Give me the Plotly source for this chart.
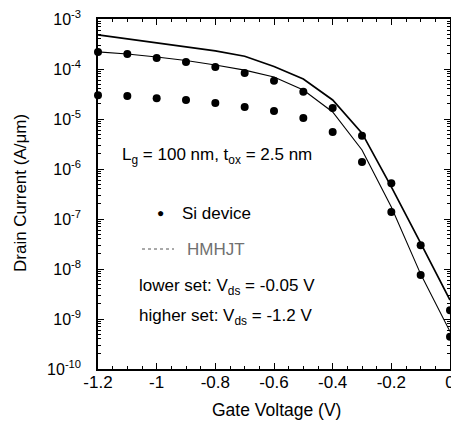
import plotly.graph_objects as go

# Gate voltage (V)
vg = [-1.2, -1.1, -1.0, -0.9, -0.8, -0.7, -0.6, -0.5, -0.4, -0.3, -0.2, -0.1, 0.0]

# Si device, higher set (Vds = -1.2 V), A/um
si_high = [2.2e-4, 2.0e-4, 1.66e-4, 1.38e-4, 1.1e-4, 8.3e-5, 5.8e-5, 3.5e-5,
           1.66e-5, 4.6e-6, 5.2e-7, 3.0e-8, 1.5e-9]
# Si device, lower set (Vds = -0.05 V), A/um
si_low = [3.0e-5, 2.9e-5, 2.6e-5, 2.4e-5, 2.1e-5, 1.74e-5, 1.45e-5, 1.05e-5,
          5.5e-6, 1.38e-6, 1.38e-7, 7.6e-9, 4.4e-10]

# HMHJT curves
hmhjt_upper = [4.8e-4, 4.0e-4, 3.3e-4, 2.75e-4, 2.3e-4, 1.8e-4, 1.12e-4, 6.3e-5,
               2.4e-5, 5.2e-6, 4.4e-7, 3.3e-8, 2.4e-9]
hmhjt_lower = [2.2e-4, 2.0e-4, 1.74e-4, 1.48e-4, 1.2e-4, 9.5e-5, 6.9e-5, 3.8e-5,
               1.38e-5, 2.4e-6, 1.74e-7, 7.9e-9, 5.6e-10]

x_ticks = [-1.2, -1.0, -0.8, -0.6, -0.4, -0.2, 0.0]
x_ticklabels = ["-1.2", "-1", "-0.8", "-0.6", "-0.4", "-0.2", "0"]
y_ticks = [1e-10, 1e-9, 1e-8, 1e-7, 1e-6, 1e-5, 1e-4, 1e-3]
y_ticklabels = ["10<sup>-10</sup>", "10<sup>-9</sup>", "10<sup>-8</sup>", "10<sup>-7</sup>",
                "10<sup>-6</sup>", "10<sup>-5</sup>", "10<sup>-4</sup>", "10<sup>-3</sup>"]

FONT = "Liberation Sans, Arial, sans-serif"

fig = go.Figure()
fig.add_trace(go.Scatter(x=vg, y=hmhjt_upper, mode="lines",
                         line=dict(color="black", width=1.7), cliponaxis=False,
                         showlegend=False))
fig.add_trace(go.Scatter(x=vg, y=hmhjt_lower, mode="lines",
                         line=dict(color="black", width=1.1), cliponaxis=False,
                         showlegend=False))
fig.add_trace(go.Scatter(x=vg, y=si_high, mode="markers",
                         marker=dict(color="black", size=8), cliponaxis=False,
                         showlegend=False))
fig.add_trace(go.Scatter(x=vg, y=si_low, mode="markers",
                         marker=dict(color="black", size=8), cliponaxis=False,
                         showlegend=False))

# plot-area geometry in page pixels
L, R, T, B = 98, 450, 19, 369
W, H = 451, 425


def px(x):
    return (x - L) / (R - L)


def py(y):
    return (B - y) / (B - T)


fig.update_layout(
    width=W, height=H,
    margin=dict(l=L, r=W - R, t=T, b=H - B, pad=0),
    plot_bgcolor="white", paper_bgcolor="white",
    font=dict(family=FONT, color="black", size=17),
    xaxis=dict(range=[-1.2, 0.0], tickvals=x_ticks, ticktext=x_ticklabels,
               ticks="inside", ticklen=6, tickwidth=1.2, tickcolor="black",
               showline=True, linecolor="black", linewidth=1.5, mirror="allticks",
               showgrid=False, zeroline=False, automargin=False,
               ticklabeloverflow="allow", ticklabelstandoff=-3,
               tickfont=dict(size=17, family=FONT),
               minor=dict(ticks="inside", ticklen=3, dtick=0.05, tickcolor="black",
                          tickwidth=1, showgrid=False)),
    yaxis=dict(type="log", range=[-10, -3], tickvals=y_ticks, ticktext=y_ticklabels,
               ticks="inside", ticklen=6, tickwidth=1.2, tickcolor="black",
               showline=True, linecolor="black", linewidth=1.5, mirror="allticks",
               showgrid=False, zeroline=False, ticklabelstandoff=12, automargin=False,
               ticklabeloverflow="allow",
               tickfont=dict(size=16, family=FONT),
               minor=dict(ticks="inside", ticklen=3, dtick="D1", tickcolor="black",
                          tickwidth=1, showgrid=False)),
)

ann = []
ann.append(dict(x=px(120), y=py(156), xref="paper", yref="paper", xanchor="left",
                yanchor="middle", showarrow=False,
                text="L<sub>g</sub> = 100 nm, t<sub>ox</sub> = 2.5 nm", font=dict(size=17)))
ann.append(dict(x=px(180), y=py(213), xref="paper", yref="paper", xanchor="left",
                yanchor="middle", showarrow=False, text="Si device", font=dict(size=17)))
ann.append(dict(x=px(160), y=py(213), xref="paper", yref="paper", xanchor="center",
                yanchor="middle", showarrow=False, text="●", font=dict(size=12)))
ann.append(dict(x=px(185), y=py(249), xref="paper", yref="paper", xanchor="left",
                yanchor="middle", showarrow=False, text="HMHJT",
                font=dict(size=17, color="#707070")))
ann.append(dict(x=px(137), y=py(287), xref="paper", yref="paper", xanchor="left",
                yanchor="middle", showarrow=False,
                text="lower set: V<sub>ds</sub> = -0.05 V", font=dict(size=17)))
ann.append(dict(x=px(137), y=py(317), xref="paper", yref="paper", xanchor="left",
                yanchor="middle", showarrow=False,
                text="higher set: V<sub>ds</sub> = -1.2 V", font=dict(size=17)))
ann.append(dict(x=px(276), y=py(410), xref="paper", yref="paper", xanchor="center",
                yanchor="middle", showarrow=False, text="Gate Voltage (V)",
                font=dict(size=17.5)))
ann.append(dict(x=px(20), y=py(193), xref="paper", yref="paper", xanchor="center",
                yanchor="middle", showarrow=False, text="Drain Current (A/μm)",
                textangle=-90, font=dict(size=17)))
fig.update_layout(annotations=ann)

fig.add_shape(type="line", xref="paper", yref="paper",
              x0=px(142), x1=px(174), y0=py(249), y1=py(249),
              line=dict(color="#555555", width=1, dash="dot"))

fig.write_html(
    "out.html",
    config={"displayModeBar": False},
    post_script=(
        "document.documentElement.style.margin='0';"
        "document.documentElement.style.padding='0';"
        "document.documentElement.style.overflow='hidden';"
        "document.body.style.margin='0';"
        "document.body.style.padding='0';"
        "document.body.style.overflow='hidden';"
    ),
)
